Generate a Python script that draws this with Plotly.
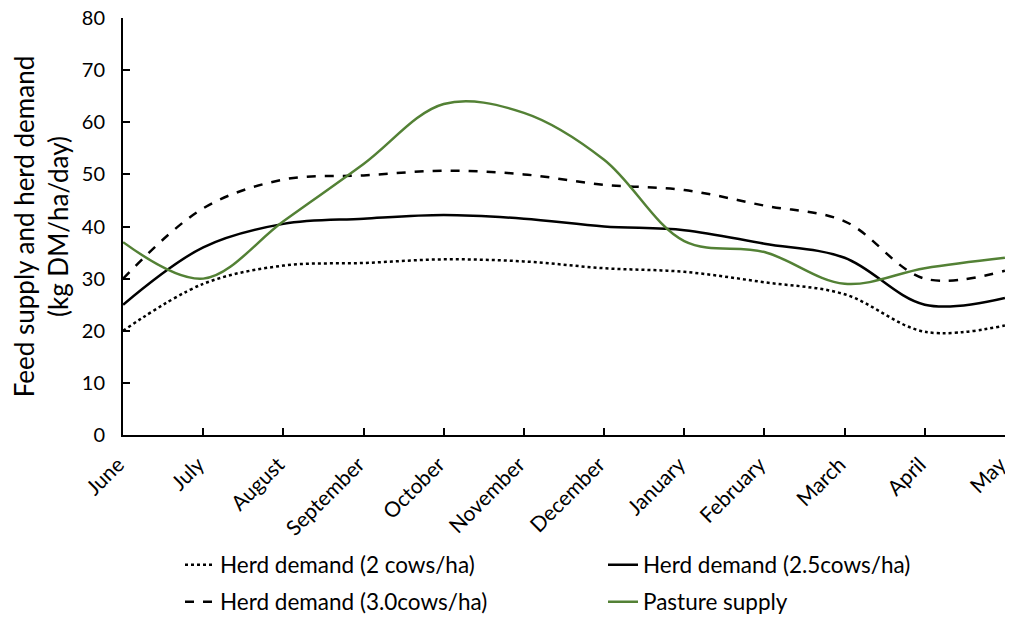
import plotly.graph_objects as go

months = ["June", "July", "August", "September", "October", "November",
          "December", "January", "February", "March", "April", "May"]

demand_2 = [20, 29, 32.5, 33, 33.7, 33.3, 32, 31.3, 29.3, 27, 19.8, 21]
demand_25 = [25, 36, 40.5, 41.5, 42.2, 41.5, 40, 39.3, 36.7, 34, 25, 26.3]
demand_30 = [30, 43.5, 49, 49.8, 50.7, 50, 48, 47, 44, 41, 30, 31.5]
pasture = [37, 30, 41, 52, 63.5, 61.8, 52.8, 37.2, 35.1, 29, 32, 34]

x = list(range(len(months)))

# page body has an 8px margin, so the figure is 8px smaller each way
W, H = 1005, 609

fig = go.Figure()
fig.add_trace(go.Scatter(x=x, y=demand_2, name="Herd demand (2 cows/ha)", mode="lines",
                         legend="legend",
                         line=dict(color="black", width=2.5, dash="dot", shape="spline")))
fig.add_trace(go.Scatter(x=x, y=demand_25, name="Herd demand (2.5cows/ha)", mode="lines",
                         legend="legend",
                         line=dict(color="black", width=2.5, shape="spline")))
fig.add_trace(go.Scatter(x=x, y=demand_30, name="Herd demand (3.0cows/ha)", mode="lines",
                         legend="legend2",
                         line=dict(color="black", width=2.5, dash="dash", shape="spline")))
fig.add_trace(go.Scatter(x=x, y=pasture, name="Pasture supply", mode="lines",
                         legend="legend2",
                         line=dict(color="#538135", width=2.5, shape="spline")))

leg = dict(orientation="h", xref="container", yref="container", xanchor="left",
           yanchor="middle", entrywidth=378, font=dict(size=22.5), bgcolor="rgba(0,0,0,0)")

fig.update_layout(
    width=W, height=H,
    margin=dict(l=115, r=8, t=10, b=182, autoexpand=False),
    plot_bgcolor="white", paper_bgcolor="white",
    font=dict(family="Lato, Open Sans, sans-serif", size=20, color="black"),
    legend=dict(leg, x=172 / W, y=1 - 557 / H),
    legend2=dict(leg, x=172 / W, y=1 - 594 / H),
)
fig.update_xaxes(range=[-0.001, 11.001], tickvals=x, ticktext=months, tickangle=-45,
                 showline=True, linecolor="black", linewidth=2, showgrid=False,
                 ticks="inside", ticklen=7, tickwidth=1.5, tickcolor="black", zeroline=False,
                 automargin=False, tickfont=dict(size=21), ticklabelstandoff=7,
                 ticklabelshift=-5, ticklabeloverflow="allow")
fig.update_yaxes(range=[0, 80], dtick=10, showline=True, linecolor="black", linewidth=2,
                 showgrid=False, ticks="inside", ticklen=7, tickwidth=1.5, tickcolor="black",
                 zeroline=False, automargin=False, tickfont=dict(size=20), ticklabelstandoff=12,
                 ticklabeloverflow="allow",
                 title=dict(text="Feed supply and herd demand<br>(kg DM/ha/day)", standoff=14,
                            font=dict(size=26)))

fig.write_html("out.html")
